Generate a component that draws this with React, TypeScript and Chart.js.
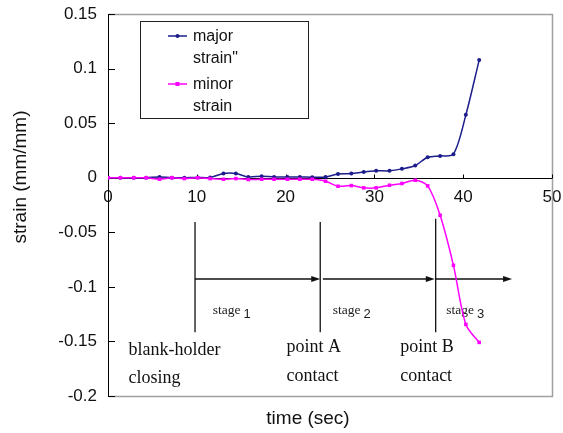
import React, { useEffect, useRef } from "react";
import { Chart, registerables } from "chart.js";

Chart.register(...registerables);

// ---- data ----
const timeSec = [0, 1.4, 2.9, 4.3, 5.8, 7.2, 8.6, 10.1, 11.5, 13.0, 14.4, 15.8, 17.3, 18.7, 20.2, 21.6, 23.0, 24.5, 25.9, 27.4, 28.8, 30.2, 31.7, 33.1, 34.6, 36.0, 37.4, 38.9, 40.3, 41.8];
const majorStrain = [0, 0, 0, 0, 0.0007, 0, 0, 0.0002, 0.0002, 0.0038, 0.0038, 0.0007, 0.0014, 0.0007, 0.0007, 0.0007, 0.0005, 0.0007, 0.0035, 0.0038, 0.0053, 0.0063, 0.0063, 0.0081, 0.0112, 0.0188, 0.02, 0.0216, 0.0576, 0.1078];
const minorStrain = [0, 0, 0, 0, -0.0014, 0, -0.0008, 0, -0.0008, -0.0014, -0.0008, -0.0017, -0.0014, -0.0014, -0.0014, -0.0014, -0.0014, -0.0032, -0.0078, -0.0072, -0.0093, -0.0093, -0.0069, -0.0053, -0.0023, -0.0075, -0.0344, -0.0803, -0.1344, -0.1509];

const seriesNames = [["major", "strain\""], ["minor", "strain"]];
const seriesColors = ["#1c1c8c", "#ff00ff"];

const xMin = 0, xMax = 50, xStep = 10;
const yMin = -0.2, yMax = 0.15, yStep = 0.05;
const xTitle = "time (sec)";
const yTitle = "strain (mm/mm)";

// ---- annotations (data units) ----
const eventX = [9.8, 23.9, 36.9];
const eventTopY = [-0.0406, -0.0406, -0.0375];
const eventBottomY = -0.1415;
const arrowY = -0.0928;
const arrowFrom = [9.8, 24.2, 36.9];
const arrowTo = [23.9, 36.8, 45.5];
const stageNums = ["1", "2", "3"];
const stageX = [11.8, 25.3, 38.1];
const stageY = -0.1248;
const eventText = [["blank-holder", "closing"], ["point A", "contact"], ["point B", "contact"]];
const eventTextX = [2.3, 20.1, 32.9];
const eventTextY1 = [-0.162, -0.16, -0.16];
const eventTextY2 = [-0.1885, -0.1862, -0.1862];

const SANS = '"Liberation Sans", Arial, sans-serif';
const SERIF = '"Liberation Serif", "Times New Roman", serif';

const decor = {
  id: "decor",
  beforeDatasetsDraw(chart: any) {
    const { ctx, chartArea: a, scales } = chart;
    const x = scales.x, y = scales.y;
    const r = (v: number) => Math.round(v) + 0.5;
    const line = (x1: number, y1: number, x2: number, y2: number) => {
      ctx.beginPath(); ctx.moveTo(x1, y1); ctx.lineTo(x2, y2); ctx.stroke();
    };
    ctx.save();
    // plot border
    ctx.strokeStyle = "#a0a0a0"; ctx.lineWidth = 1.5;
    ctx.beginPath();
    ctx.moveTo(r(a.left), r(a.top)); ctx.lineTo(r(a.right), r(a.top));
    ctx.lineTo(r(a.right), r(a.bottom)); ctx.lineTo(r(a.left), r(a.bottom));
    ctx.stroke();
    // axes
    ctx.strokeStyle = "#000"; ctx.lineWidth = 1;
    const y0 = r(y.getPixelForValue(0));
    line(r(a.left), a.top, r(a.left), a.bottom + 0.5);
    line(a.left, y0, a.right, y0);
    y.ticks.forEach((t: any) => { const py = r(y.getPixelForValue(t.value)); line(a.left, py, a.left + 7, py); });
    x.ticks.forEach((t: any) => { const px = r(x.getPixelForValue(t.value)); line(px, y0, px, y0 - 4); });

    // event lines
    ctx.strokeStyle = "#111"; ctx.lineWidth = 1.3;
    eventX.forEach((ex, i) => {
      const px = x.getPixelForValue(ex);
      line(px, y.getPixelForValue(eventTopY[i]), px, y.getPixelForValue(eventBottomY));
    });
    // arrows
    const ay = y.getPixelForValue(arrowY);
    ctx.lineWidth = 1.5; ctx.fillStyle = "#111";
    arrowFrom.forEach((fx, i) => {
      const x1 = x.getPixelForValue(fx), x2 = x.getPixelForValue(arrowTo[i]);
      line(x1, ay, x2 - 6, ay);
      ctx.beginPath(); ctx.moveTo(x2, ay); ctx.lineTo(x2 - 9, ay - 3); ctx.lineTo(x2 - 9, ay + 3); ctx.closePath(); ctx.fill();
    });
    // stage labels
    ctx.fillStyle = "#222"; ctx.textBaseline = "alphabetic"; ctx.textAlign = "left";
    stageNums.forEach((n, i) => {
      const px = x.getPixelForValue(stageX[i]);
      const py = y.getPixelForValue(stageY);
      ctx.font = `13.5px ${SERIF}`;
      ctx.fillText("stage", px, py);
      const w = ctx.measureText("stage").width;
      ctx.font = `13px ${SANS}`;
      ctx.fillText(n, px + w + 3, py + 4);
    });
    // event texts
    ctx.font = `18px ${SERIF}`; ctx.fillStyle = "#111";
    eventText.forEach((lines, i) => {
      const px = x.getPixelForValue(eventTextX[i]);
      ctx.fillText(lines[0], px, y.getPixelForValue(eventTextY1[i]));
      ctx.fillText(lines[1], px, y.getPixelForValue(eventTextY2[i]));
    });
    ctx.restore();
  },
  afterDraw(chart: any) {
    const { ctx } = chart;
    ctx.save();
    // axis titles
    ctx.fillStyle = "#111";
    ctx.font = `19px ${SANS}`;
    ctx.textAlign = "center"; ctx.textBaseline = "middle";
    ctx.fillText(xTitle, 308, 419);
    ctx.translate(21, 177); ctx.rotate(-Math.PI / 2);
    ctx.fillText(yTitle, 0, 0);
    ctx.setTransform(1, 0, 0, 1, 0, 0);
    // legend
    ctx.strokeStyle = "#222"; ctx.lineWidth = 1;
    ctx.strokeRect(140.5, 21.5, 168, 97);
    ctx.font = `16px ${SANS}`; ctx.textAlign = "left"; ctx.textBaseline = "alphabetic";
    const rowY = [36, 84];
    seriesNames.forEach((names, i) => {
      const cy = rowY[i];
      ctx.strokeStyle = seriesColors[i]; ctx.lineWidth = 1.5;
      ctx.beginPath(); ctx.moveTo(168, cy); ctx.lineTo(187, cy); ctx.stroke();
      ctx.fillStyle = seriesColors[i];
      if (i === 0) { ctx.beginPath(); ctx.arc(177.5, cy, 2, 0, Math.PI * 2); ctx.fill(); }
      else ctx.fillRect(175.5, cy - 2, 4, 4);
      ctx.fillStyle = "#111";
      ctx.fillText(names[0], 193, cy + 5);
      ctx.fillText(names[1], 193, cy + 27);
    });
    ctx.restore();
  },
};

const zeroPad = (s: any) => { s.paddingLeft = 0; s.paddingRight = 0; s.paddingTop = 0; s.paddingBottom = 0; };

export default function App() {
  const ref = useRef<HTMLCanvasElement | null>(null);
  useEffect(() => {
    if (!ref.current) return;
    const chart = new Chart(ref.current, {
      type: "line",
      data: {
        datasets: [
          {
            label: "minor strain",
            data: timeSec.map((t, i) => ({ x: t, y: minorStrain[i] })),
            borderColor: seriesColors[1], backgroundColor: seriesColors[1],
            borderWidth: 1.5, pointStyle: "rect", pointRadius: 2.5, pointBorderWidth: 0,
            tension: 0.3, order: 1,
          },
          {
            label: "major strain\"",
            data: timeSec.map((t, i) => ({ x: t, y: majorStrain[i] })),
            borderColor: seriesColors[0], backgroundColor: seriesColors[0],
            borderWidth: 1.5, pointStyle: "circle", pointRadius: 2, pointBorderWidth: 0,
            tension: 0.3, order: 2,
          },
        ],
      },
      options: {
        animation: false,
        responsive: false,
        devicePixelRatio: 1,
        layout: { padding: { left: 8, top: 14, right: 11, bottom: 37 } },
        plugins: { legend: { display: false }, tooltip: { enabled: false } },
        scales: {
          x: {
            type: "linear", min: xMin, max: xMax,
            position: { y: 0 } as any,
            grid: { display: false, drawTicks: false },
            border: { display: false },
            afterFit: zeroPad,
            ticks: { stepSize: xStep, padding: 9, color: "#111", font: { family: SANS, size: 17 } },
          },
          y: {
            type: "linear", min: yMin, max: yMax,
            grid: { display: false, drawTicks: false },
            border: { display: false },
            afterFit: (s: any) => { s.width = 100; zeroPad(s); },
            ticks: {
              stepSize: yStep, padding: 11, color: "#111", font: { family: SANS, size: 17 },
              callback: (v: any) => String(Math.round(Number(v) * 100) / 100),
            },
          },
        },
      },
      plugins: [decor],
    });
    return () => chart.destroy();
  }, []);
  return (
    <div style={{ position: "fixed", left: 0, top: 0, width: 563, height: 433, background: "#fff" }}>
      <canvas ref={ref} width={563} height={433} style={{ width: 563, height: 433 }} />
    </div>
  );
}
